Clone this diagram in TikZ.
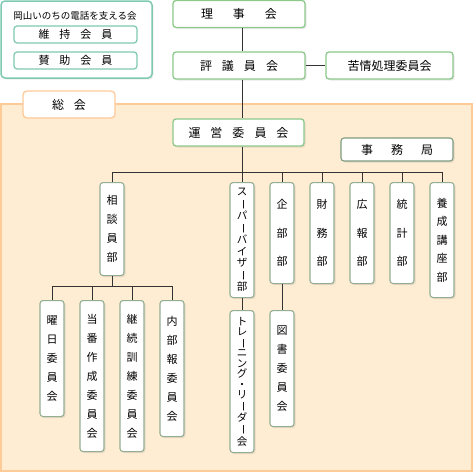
\documentclass[tikz,border=0pt]{standalone}
\usepackage{fontspec}
\setmainfont{Noto Sans CJK JP}
\usepackage{graphicx}
\usetikzlibrary{shadows, positioning}

\definecolor{boxgreen}{HTML}{8CC98A}
\definecolor{vgreen}{HTML}{94AE92}
\definecolor{jimugreen}{HTML}{7E9C7E}
\definecolor{tealline}{HTML}{7FC9B2}
\definecolor{peach}{HTML}{FEECD3}
\definecolor{peachline}{HTML}{FDCA98}
\definecolor{linegray}{HTML}{333333}

% vertical long vowel mark
\newcommand{\tatebou}{\rotatebox[origin=c]{-90}{ー}}

\begin{document}
\begin{tikzpicture}[
	x=1pt, y=-1pt,
	box/.style = {rectangle, draw=boxgreen, fill=white, rounded corners=3pt, line width=1.3pt, minimum height=27pt, inner sep=0pt, font=\fontsize{12}{12}\selectfont, drop shadow={opacity=0.18, shadow xshift=1.5pt, shadow yshift=-1.5pt}},
	vbox/.style = {rectangle, draw=vgreen, fill=white, rounded corners=3pt, line width=1.1pt, minimum width=24pt, anchor=north, inner sep=0pt, align=center, font=\fontsize{11}{19}\selectfont, drop shadow={opacity=0.18, shadow xshift=1.5pt, shadow yshift=-1.5pt}},
	member/.style = {rectangle, draw=tealline, fill=white, rounded corners=3pt, line width=1.2pt, minimum width=123pt, minimum height=17pt, inner sep=0pt, font=\fontsize{11}{11}\selectfont},
	line/.style = {draw=linegray, line width=0.8pt}
	]
	\useasboundingbox (0,0) rectangle (474,474);
	
	% Supporters
	\node [rectangle, draw=tealline, fill=white, rounded corners=4pt, line width=1.5pt, minimum width=151pt, minimum height=77pt, drop shadow={opacity=0.15, shadow xshift=1.5pt, shadow yshift=-1.5pt}] (support) at (76.5,39.5) {};
	\node [font=\fontsize{9.5}{9.5}\selectfont] (supporttitle) at (75,16) {岡山いのちの電話を支える会};
	\node [member] (iji) at (75.5,34.5) {維\hspace{10pt}持\hspace{10pt}会\hspace{10pt}員};
	\node [member] (sanjo) at (75.5,60.5) {賛\hspace{10pt}助\hspace{10pt}会\hspace{10pt}員};
	
	% General assembly area
	\draw [draw=peachline, fill=peach, line width=1.5pt] (1,104) rectangle (472,471);
	\node [rectangle, draw=peachline, fill=white, rounded corners=4pt, line width=1.3pt, minimum width=92pt, minimum height=27pt, font=\fontsize{12}{12}\selectfont] (soukai) at (69,104.5) {総\hspace{10pt}会};
	
	% Top nodes
	\node [box, minimum width=132pt] (riji) at (239,14) {理\hspace{20pt}事\hspace{20pt}会};
	\node [box, minimum width=132pt] (hyogi) at (239,65.5) {評\hspace{10pt}議\hspace{10pt}員\hspace{10pt}会};
	\node [box, minimum width=127pt] (kujo) at (389.5,65.5) {苦情処理委員会};
	\node [box, minimum width=131pt] (unei) at (238.5,132.5) {運\hspace{10pt}営\hspace{10pt}委\hspace{10pt}員\hspace{10pt}会};
	\node [box, draw=jimugreen, line width=1.1pt, minimum width=112pt, minimum height=23pt] (jimu) at (397,149.5) {事\hspace{18pt}務\hspace{18pt}局};
	
	% Departments
	\node [vbox, minimum height=93pt] (soudan) at (112,182) {相\\談\\員\\部};
	\node [vbox, minimum height=115pt, font=\fontsize{10.5}{11.4}\selectfont] (sv) at (242,182) {ス\\\tatebou\\パ\\\tatebou\\バ\\イ\\ザ\\\tatebou\\部};
	\node [vbox, minimum height=101pt, font=\fontsize{11}{28.5}\selectfont] (kikaku) at (282,182) {企\\部\\部};
	\node [vbox, minimum height=101pt, font=\fontsize{11}{28.5}\selectfont] (zaimu) at (322,182) {財\\務\\部};
	\node [vbox, minimum height=101pt, font=\fontsize{11}{28.5}\selectfont] (kouhou) at (362,182) {広\\報\\部};
	\node [vbox, minimum height=101pt, font=\fontsize{11}{28.5}\selectfont] (toukei) at (402,182) {統\\計\\部};
	\node [vbox, minimum height=115pt, font=\fontsize{11}{18.5}\selectfont] (yousei) at (442,182) {養\\成\\講\\座\\部};
	
	% Committees
	\node [vbox, minimum height=116pt] (youbi) at (52,300) {曜\\日\\委\\員\\会};
	\node [vbox, minimum height=151pt] (touban) at (92,300) {当\\番\\作\\成\\委\\員\\会};
	\node [vbox, minimum height=151pt] (keizoku) at (132,300) {継\\続\\訓\\練\\委\\員\\会};
	\node [vbox, minimum height=136pt] (naibu) at (172,300) {内\\部\\報\\委\\員\\会};
	\node [vbox, minimum height=142pt, font=\fontsize{10.5}{10.5}\selectfont] (training) at (242,310) {ト\\レ\\\tatebou\\ニ\\ン\\グ\\・\\リ\\\tatebou\\ダ\\\tatebou\\会};
	\node [vbox, minimum height=116pt] (tosho) at (282,310) {図\\書\\委\\員\\会};
	
	\coordinate (bus) at (0,172);
	\coordinate (sub) at (0,286);
	
	% Lines
	\path [line] (riji.south -| sv.north) -- (hyogi.north -| sv.north);
	\path [line] (hyogi) -- (kujo);
	\path [line] (hyogi.south -| sv.north) -- (unei.north -| sv.north);
	\path [line] (unei.south -| sv.north) -- (sv.north);
	
	\path [line] (soudan.north) |- (bus -| yousei.north) -- (yousei.north);
	\path [line] (kikaku.north) -- (kikaku.north |- bus);
	\path [line] (zaimu.north) -- (zaimu.north |- bus);
	\path [line] (kouhou.north) -- (kouhou.north |- bus);
	\path [line] (toukei.north) -- (toukei.north |- bus);
	
	\path [line] (soudan.south) -- (soudan.south |- sub);
	\path [line] (youbi.north) |- (sub -| naibu.north) -- (naibu.north);
	\path [line] (touban.north) -- (touban.north |- sub);
	\path [line] (keizoku.north) -- (keizoku.north |- sub);
	
	\path [line] (sv.south) -- (training.north);
	\path [line] (kikaku.south) -- (tosho.north);
\end{tikzpicture}
\end{document}
